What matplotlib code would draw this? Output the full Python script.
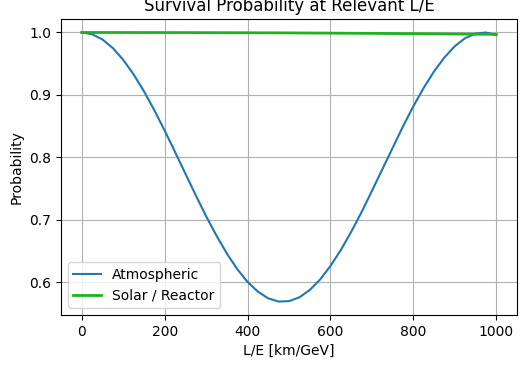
import numpy as np
import matplotlib
matplotlib.use("Agg")
import matplotlib.pyplot as plt

# L/E values (km/GeV)
le_atm = [0, 25, 50, 75, 100, 125, 150, 175, 200, 225, 250, 275, 300, 325, 350,
          375, 400, 425, 450, 475, 500, 525, 550, 575, 600, 625, 650, 675, 700,
          725, 750, 775, 800, 825, 850, 875, 900, 925, 950, 975, 1000]
p_atm = [1.000, 0.9972, 0.9888, 0.9751, 0.9563, 0.9331, 0.9060, 0.8757, 0.8431,
         0.8089, 0.7742, 0.7396, 0.7061, 0.6749, 0.6464, 0.6214, 0.6008, 0.5852,
         0.5745, 0.5694, 0.5700, 0.5761, 0.5878, 0.6046, 0.6263, 0.6518, 0.6809,
         0.7124, 0.7463, 0.7808, 0.8152, 0.8497, 0.8818, 0.9114, 0.9377, 0.9600,
         0.9780, 0.9909, 0.9982, 0.9999, 0.9959]

le_sol = [0, 250, 500, 750, 1000]
p_sol = [1.000, 0.9998, 0.9993, 0.9983, 0.9970]

fig = plt.figure(figsize=(5.2, 3.67), dpi=100)
ax = fig.add_axes([0.1173, 0.1417, 0.8769, 0.8065])

ax.plot(le_atm, p_atm, color='#1f77b4', lw=1.5, label='Atmospheric')
ax.plot(le_sol, p_sol, color='#1db31d', lw=2, label='Solar / Reactor')

ax.set_xticks([0, 200, 400, 600, 800, 1000])
ax.set_yticks([0.6, 0.7, 0.8, 0.9, 1.0])
ax.grid(True)
ax.legend(loc='lower left')
ax.set_xlabel('L/E [km/GeV]')
ax.set_ylabel('Probability')
ax.set_title('Survival Probability at Relevant L/E')

fig.savefig('out.png', dpi=100)
